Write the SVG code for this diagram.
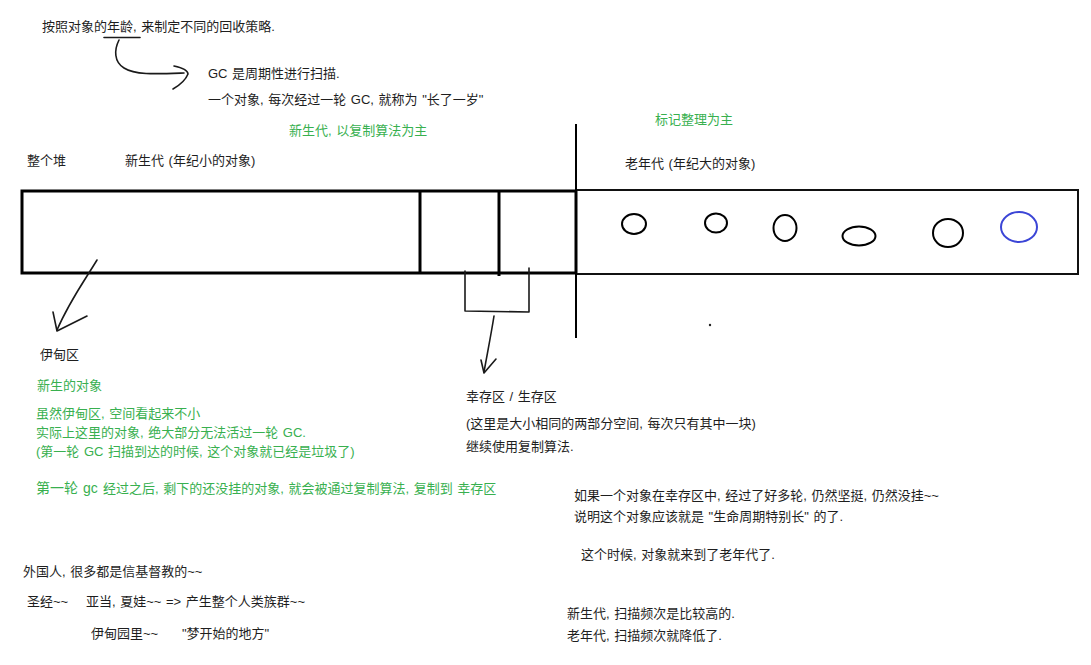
<svg xmlns="http://www.w3.org/2000/svg" width="1091" height="665" viewBox="0 0 1091 665">
<style>
text{font-family:"Liberation Sans","Noto Sans CJK SC",sans-serif;font-size:13px;fill:#1e1e1e;word-spacing:1px}
.g{fill:#38b04f}
.heap{fill:none;stroke:#000;stroke-width:3}
.old{fill:none;stroke:#111;stroke-width:2}
.obj{fill:none;stroke:#000;stroke-width:2}
.ink{fill:none;stroke:#1a1a1a;stroke-width:1.6;stroke-linecap:round;stroke-linejoin:round}
</style>
<rect width="1091" height="665" fill="#fff"/>
<g id="intro">
<text x="42" y="31">按照对象的年龄, 来制定不同的回收策略.</text>
<text x="208" y="78">GC 是周期性进行扫描.</text>
<text x="208" y="104">一个对象, 每次经过一轮 GC, 就称为 "长了一岁"</text>
</g>
<g id="labels-top">
<text class="g" x="289" y="135">新生代, 以复制算法为主</text>
<text x="27" y="165">整个堆</text>
<text x="125" y="165">新生代 (年纪小的对象)</text>
<text class="g" x="655" y="124">标记整理为主</text>
<text x="625" y="168">老年代 (年纪大的对象)</text>
</g>
<g id="young-gen">
<rect class="heap" x="22" y="191" width="554" height="82"/>
<line class="heap" x1="420" y1="191" x2="420" y2="273" stroke-width="2.5"/>
<line class="heap" x1="499" y1="191" x2="499" y2="276" stroke-width="2"/>
</g>
<g id="old-gen">
<rect class="old" x="576" y="190" width="502" height="84"/>
<ellipse class="obj" cx="634" cy="224" rx="12" ry="10"/>
<ellipse class="obj" cx="716" cy="223" rx="11" ry="9.5"/>
<ellipse class="obj" cx="785" cy="228" rx="11.5" ry="13"/>
<ellipse class="obj" cx="859" cy="236" rx="16.5" ry="9.5"/>
<ellipse class="obj" cx="948" cy="233" rx="15" ry="14"/>
<ellipse cx="1019" cy="227" rx="18" ry="15" fill="none" stroke="#3b45d6" stroke-width="2"/>
</g>
<g id="divider">
<line x1="576" y1="124" x2="576" y2="338" stroke="#000" stroke-width="2"/>
<circle cx="710" cy="325" r="1.2" fill="#222"/>
</g>
<g id="connectors">
<path class="ink" d="M104 37.5 L140 37.5"/>
<path class="ink" d="M119 40 C114 50 114 62 124 68 C135 75 155 74 184 73"/>
<path class="ink" d="M174 66 C183 68 188 71 188 74 C186 79 180 85 173 89"/>
<path class="ink" d="M97 260 C85 280 70 300 57 330"/>
<path class="ink" d="M53 312 L57 331 L87 316"/>
<path class="ink" d="M465 271 L465 311 L529 312 L529 268"/>
<path class="ink" d="M494 316 C491 335 487 355 484 372"/>
<path class="ink" d="M481 360 L484 373 L496 359"/>
</g>
<g id="eden">
<text x="40" y="359">伊甸区</text>
<text class="g" x="37" y="390">新生的对象</text>
<text class="g" x="36" y="418">虽然伊甸区, 空间看起来不小</text>
<text class="g" x="36" y="437">实际上这里的对象, 绝大部分无法活过一轮 GC.</text>
<text class="g" x="36" y="456">(第一轮 GC 扫描到达的时候, 这个对象就已经是垃圾了)</text>
<text class="g" x="36" y="493" style="font-size:14px">第一轮 gc</text>
<text class="g" x="103" y="493">经过之后, 剩下的还没挂的对象, 就会被通过复制算法, 复制到 幸存区</text>
</g>
<g id="survivor">
<text x="466" y="401">幸存区 / 生存区</text>
<text x="466" y="428">(这里是大小相同的两部分空间, 每次只有其中一块)</text>
<text x="466" y="451">继续使用复制算法.</text>
</g>
<g id="old-notes">
<text x="574" y="500">如果一个对象在幸存区中, 经过了好多轮, 仍然坚挺, 仍然没挂~~</text>
<text x="574" y="521">说明这个对象应该就是 "生命周期特别长" 的了.</text>
<text x="581" y="559">这个时候, 对象就来到了老年代了.</text>
</g>
<g id="bible">
<text x="23" y="576">外国人, 很多都是信基督教的~~</text>
<text x="27" y="606">圣经~~</text>
<text x="86" y="606">亚当, 夏娃~~ =&gt; 产生整个人类族群~~</text>
<text x="91" y="638">伊甸园里~~</text>
<text x="182" y="638">"梦开始的地方"</text>
</g>
<g id="frequency">
<text x="567" y="618">新生代, 扫描频次是比较高的.</text>
<text x="567" y="640">老年代, 扫描频次就降低了.</text>
</g>
</svg>
